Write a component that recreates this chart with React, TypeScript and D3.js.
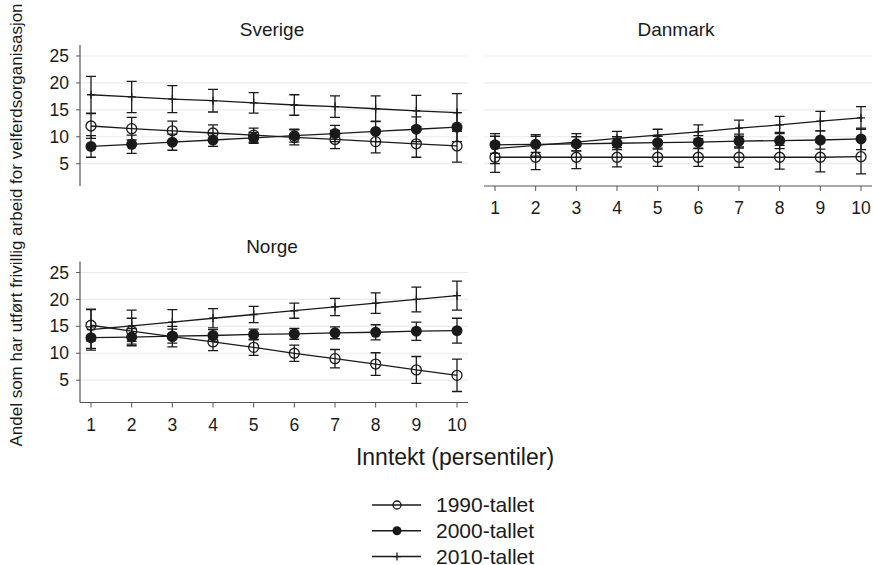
import React from 'react';
import * as d3 from 'd3';

// income deciles on the x axis
const deciles = [1, 2, 3, 4, 5, 6, 7, 8, 9, 10];
const yTicks = [5, 10, 15, 20, 25];
const seriesNames = ['1990-tallet', '2000-tallet', '2010-tallet'];

// estimates and 95% CI half-widths, by country and decade
const sverige1990 = [12.0, 11.5, 11.1, 10.7, 10.3, 9.9, 9.5, 9.1, 8.7, 8.3];
const sverige1990Ci = [2.3, 2.1, 1.8, 1.5, 1.3, 1.4, 1.7, 2.1, 2.5, 3.0];
const sverige2000 = [8.2, 8.6, 9.0, 9.4, 9.8, 10.2, 10.6, 11.0, 11.4, 11.8];
const sverige2000Ci = [2.0, 1.7, 1.5, 1.2, 1.0, 1.2, 1.5, 1.9, 2.3, 2.7];
const sverige2010 = [17.8, 17.4, 17.0, 16.7, 16.3, 15.9, 15.6, 15.2, 14.8, 14.5];
const sverige2010Ci = [3.4, 2.9, 2.5, 2.1, 1.9, 1.9, 2.0, 2.4, 2.9, 3.5];

const danmark1990 = [6.2, 6.2, 6.2, 6.2, 6.2, 6.2, 6.2, 6.2, 6.2, 6.3];
const danmark1990Ci = [2.8, 2.3, 2.1, 1.8, 1.7, 1.7, 1.9, 2.2, 2.7, 3.2];
const danmark2000 = [8.5, 8.6, 8.7, 8.8, 8.9, 9.0, 9.2, 9.3, 9.4, 9.6];
const danmark2000Ci = [1.6, 1.5, 1.3, 1.2, 1.2, 1.2, 1.3, 1.5, 1.7, 2.0];
const danmark2010 = [7.8, 8.4, 9.0, 9.7, 10.3, 10.9, 11.6, 12.2, 12.9, 13.5];
const danmark2010Ci = [2.8, 2.0, 1.6, 1.3, 1.1, 1.3, 1.5, 1.6, 1.8, 2.1];

const norge1990 = [15.2, 14.1, 13.1, 12.1, 11.1, 10.0, 9.0, 8.0, 6.9, 5.9];
const norge1990Ci = [2.9, 2.4, 1.9, 1.6, 1.5, 1.5, 1.7, 2.1, 2.5, 3.0];
const norge2000 = [12.9, 13.0, 13.2, 13.3, 13.5, 13.6, 13.8, 13.9, 14.1, 14.2];
const norge2000Ci = [2.0, 1.6, 1.3, 1.1, 1.0, 1.0, 1.1, 1.4, 1.7, 2.3];
const norge2010 = [14.4, 15.1, 15.8, 16.5, 17.2, 17.9, 18.6, 19.3, 20.0, 20.7];
const norge2010Ci = [3.8, 2.9, 2.3, 1.8, 1.5, 1.4, 1.6, 1.9, 2.3, 2.7];

const panels = [
  { name: 'Sverige', left: 80, top: 45, yAxis: true, xAxis: false,
    series: [[sverige1990, sverige1990Ci], [sverige2000, sverige2000Ci], [sverige2010, sverige2010Ci]] },
  { name: 'Danmark', left: 484, top: 45, yAxis: false, xAxis: true,
    series: [[danmark1990, danmark1990Ci], [danmark2000, danmark2000Ci], [danmark2010, danmark2010Ci]] },
  { name: 'Norge', left: 80, top: 261.5, yAxis: true, xAxis: true,
    series: [[norge1990, norge1990Ci], [norge2000, norge2000Ci], [norge2010, norge2010Ci]] },
];

const W = 874, H = 565;
const PW = 388, PH = 141;
const INK = '#1a1a1a';
const FONT = '"Liberation Sans", Arial, sans-serif';

const Marker = ({ kind, x, y, r = 5 }) => {
  if (kind === 0) return <circle cx={x} cy={y} r={r} fill="none" stroke={INK} strokeWidth={1.3} />;
  if (kind === 1) return <circle cx={x} cy={y} r={r + 0.5} fill={INK} />;
  return <path d={`M${x - 4},${y}H${x + 4}M${x},${y - 4}V${y + 4}`} stroke={INK} strokeWidth={1.3} />;
};

const Panel = ({ p }) => {
  const x = d3.scaleLinear().domain([1, 10]).range([p.left + 11, p.left + PW - 11]);
  const y = d3.scaleLinear().domain([0.86, 27.04]).range([p.top + PH, p.top]);
  const line = d3.line().x((d, i) => x(deciles[i])).y(d => y(d));
  const bottom = p.top + PH;
  return (
    <g>
      <text x={p.left + PW / 2 - 2} y={p.top - 9} textAnchor="middle" fontSize={19} fill={INK}>{p.name}</text>
      {yTicks.map(t => (
        <line key={t} x1={p.left} x2={p.left + PW} y1={y(t)} y2={y(t)} stroke="#ebebeb" strokeWidth={1.2} />
      ))}
      {p.yAxis && (
        <g>
          <line x1={p.left} x2={p.left} y1={p.top} y2={bottom} stroke="#555" strokeWidth={1.2} />
          {yTicks.map(t => (
            <g key={t}>
              <line x1={p.left - 4} x2={p.left} y1={y(t)} y2={y(t)} stroke="#555" />
              <text x={p.left - 11} y={y(t)} dy="0.35em" textAnchor="end" fontSize={17.5} fill={INK}>{t}</text>
            </g>
          ))}
        </g>
      )}
      {p.xAxis && (
        <g>
          <line x1={p.left} x2={p.left + PW} y1={bottom} y2={bottom} stroke="#555" strokeWidth={1.2} />
          {deciles.map(d => (
            <g key={d}>
              <line x1={x(d)} x2={x(d)} y1={bottom} y2={bottom + 5} stroke="#555" />
              <text x={x(d)} y={bottom + 28} textAnchor="middle" fontSize={17.5} fill={INK}>{d}</text>
            </g>
          ))}
        </g>
      )}
      {p.series.map(([vals, ci], k) => (
        <g key={k}>
          <path d={line(vals)} fill="none" stroke={INK} strokeWidth={1.3} />
          {vals.map((v, i) => {
            const cx = x(deciles[i]);
            const hi = y(v + ci[i]);
            const lo = y(v - ci[i]);
            return (
              <g key={i}>
                <path d={`M${cx},${hi}V${lo}M${cx - 5},${hi}H${cx + 5}M${cx - 5},${lo}H${cx + 5}`}
                  stroke={INK} strokeWidth={1.3} fill="none" />
                <Marker kind={k} x={cx} y={y(v)} />
              </g>
            );
          })}
        </g>
      ))}
    </g>
  );
};

export default function App() {
  return (
    <svg width={W} height={H} style={{ position: 'absolute', left: 0, top: 0, background: '#fff' }}
      fontFamily={FONT}>
      <rect width={W} height={H} fill="#fff" />
      {panels.map(p => <Panel key={p.name} p={p} />)}
      <text transform="translate(22,225) rotate(-90)" textAnchor="middle" fontSize={17} fill={INK}>
        Andel som har utført frivillig arbeid for velferdsorganisasjon
      </text>
      <text x={455} y={465} textAnchor="middle" fontSize={23} fill={INK}>Inntekt (persentiler)</text>
      {seriesNames.map((s, k) => {
        const ly = 505 + k * 25.8;
        return (
          <g key={s}>
            <line x1={372} x2={421} y1={ly} y2={ly} stroke={INK} strokeWidth={1.5} />
            <Marker kind={k} x={397} y={ly} r={4} />
            <text x={436} y={ly} dy="0.35em" fontSize={21} fill={INK}>{s}</text>
          </g>
        );
      })}
    </svg>
  );
}
